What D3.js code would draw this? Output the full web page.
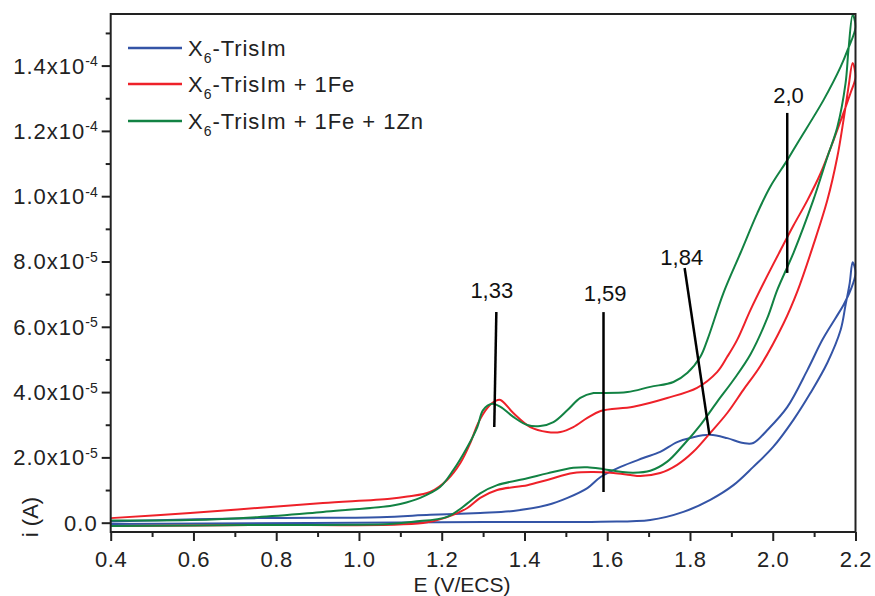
<!DOCTYPE html>
<html>
<head>
<meta charset="utf-8">
<script src="https://cdn.jsdelivr.net/npm/d3@7"></script>
<style>
  html, body { margin: 0; padding: 0; background: #fff; }
  svg { display: block; font-family: "Liberation Sans", Arial, Helvetica, sans-serif; }
</style>
</head>
<body>
<svg id="chart" width="875" height="596"></svg>
<script>
// ---------- DATA (current in units of 1e-5 A) ----------
const I_UNIT = 1e-5;
const seriesNames = ["X6-TrisIm", "X6-TrisIm + 1Fe", "X6-TrisIm + 1Fe + 1Zn"];

// Each CV loop: forward scan 0.4 -> 2.2 V then reverse scan 2.2 -> 0.4 V  [E (V), i (1e-5 A)]
const blueCV = [
  [0.400,-0.04],[1.300,0.02],[1.584,0.03],[1.704,0.08],[1.784,0.33],[1.849,0.70],[1.905,1.15],
  [1.953,1.71],[2.001,2.32],[2.050,3.15],[2.091,3.97],[2.132,4.90],[2.164,5.90],[2.176,6.67],
  [2.186,7.34],[2.193,7.98],
  [2.200,7.65],[2.188,7.12],[2.171,6.67],[2.152,6.27],[2.120,5.60],[2.084,4.68],[2.035,3.54],
  [1.987,2.84],[1.953,2.44],[1.929,2.44],[1.890,2.59],[1.849,2.69],[1.808,2.62],[1.769,2.47],
  [1.728,2.17],[1.687,1.98],[1.632,1.71],[1.584,1.40],[1.552,1.06],[1.504,0.76],[1.455,0.54],
  [1.373,0.36],[1.293,0.30],[1.172,0.24],[1.051,0.17],[0.754,0.14],[0.400,0.04]
];
const redCV = [
  [0.400,-0.10],[0.737,-0.07],[1.155,-0.01],[1.213,0.17],[1.262,0.45],[1.293,0.76],[1.334,1.00],
  [1.407,1.15],[1.455,1.31],[1.518,1.52],[1.566,1.55],[1.615,1.52],[1.656,1.46],[1.680,1.43],
  [1.728,1.52],[1.769,1.77],[1.808,2.17],[1.849,2.75],[1.890,3.36],[1.929,4.07],[1.970,4.80],
  [2.026,6.10],[2.060,7.10],[2.098,8.50],[2.132,9.88],[2.156,11.20],[2.171,12.33],[2.183,13.34],
  [2.193,14.08],
  [2.200,13.65],[2.188,13.16],[2.171,12.55],[2.147,11.72],[2.116,10.71],[2.084,9.88],[2.050,9.10],
  [2.019,8.35],[1.978,7.34],[1.946,6.51],[1.914,5.60],[1.890,5.08],[1.866,4.62],[1.817,4.13],
  [1.745,3.82],[1.663,3.55],[1.584,3.42],[1.552,3.21],[1.518,2.93],[1.487,2.78],[1.455,2.78],
  [1.414,2.93],[1.373,3.36],[1.342,3.76],[1.330,3.73],[1.310,3.51],[1.288,3.05],[1.269,2.44],
  [1.245,1.83],[1.213,1.31],[1.172,0.94],[1.117,0.80],[1.075,0.73],[0.913,0.60],[0.754,0.45],
  [0.592,0.30],[0.400,0.14]
];
const greenCV = [
  [0.400,-0.10],[0.737,-0.07],[1.075,-0.04],[1.131,0.03],[1.213,0.18],[1.262,0.59],[1.293,0.90],
  [1.334,1.15],[1.407,1.36],[1.455,1.51],[1.518,1.68],[1.552,1.70],[1.591,1.64],[1.632,1.56],
  [1.663,1.53],[1.704,1.59],[1.745,1.87],[1.784,2.38],[1.825,2.99],[1.866,3.71],[1.905,4.37],
  [1.946,5.15],[1.987,6.27],[2.011,7.13],[2.050,8.26],[2.098,9.88],[2.132,11.20],[2.156,12.11],
  [2.176,13.46],[2.183,14.48],[2.193,15.55],
  [2.200,15.18],[2.181,14.48],[2.164,13.96],[2.123,12.95],[2.060,11.63],[2.036,11.12],[1.994,10.29],
  [1.963,9.49],[1.922,8.26],[1.881,7.04],[1.842,5.60],[1.825,5.08],[1.794,4.59],[1.760,4.31],
  [1.704,4.16],[1.649,4.00],[1.584,3.97],[1.567,3.97],[1.535,3.82],[1.504,3.45],[1.470,3.08],
  [1.438,2.96],[1.407,2.99],[1.373,3.24],[1.342,3.55],[1.322,3.64],[1.300,3.45],[1.286,2.93],
  [1.262,2.32],[1.228,1.61],[1.196,1.09],[1.148,0.76],[1.100,0.57],[1.075,0.51],[0.913,0.33],
  [0.754,0.17],[0.592,0.08],[0.400,0.07]
];

// Peak annotations: label, label anchor (E, i) and marker segment (E1,i1)-(E2,i2)
const annLabels = ["1,33", "1,59", "1,84", "2,0"];
const annLabelE = [1.321, 1.595, 1.780, 2.038];
const annLabelI = [6.88, 6.80, 7.89, 12.86];
const annLine = [
  [[1.332, 6.45], [1.327, 2.93]],
  [[1.591, 6.45], [1.591, 0.94]],
  [[1.787, 7.80], [1.847, 2.69]],
  [[2.035, 12.55], [2.035, 7.65]]
];

const xMajorTicks = [0.4, 0.6, 0.8, 1.0, 1.2, 1.4, 1.6, 1.8, 2.0, 2.2];
const xMinorTicks = [0.5, 0.7, 0.9, 1.1, 1.3, 1.5, 1.7, 1.9, 2.1];
const yMajorTicks = [0, 2e-5, 4e-5, 6e-5, 8e-5, 1.0e-4, 1.2e-4, 1.4e-4];
const yMinorTicks = [1e-5, 3e-5, 5e-5, 7e-5, 9e-5, 1.1e-4, 1.3e-4, 1.5e-4];

// ---------- LAYOUT ----------
const W = 875, H = 596;
const margin = { left: 110.7, right: 19.5, top: 14, bottom: 64 };
const colors = ["#3454a6", "#ee2129", "#128243"];
const FONT = 22;

const svg = d3.select("#chart");
const x = d3.scaleLinear().domain([0.4, 2.2]).range([margin.left, W - margin.right]);
const y = d3.scaleLinear().domain([-0.285e-5, 15.58e-5]).range([H - margin.bottom, margin.top]);

// clip
svg.append("defs").append("clipPath").attr("id", "clip")
  .append("rect").attr("x", margin.left).attr("y", margin.top - 2)
  .attr("width", x(2.2) - margin.left + 1).attr("height", (H - margin.bottom) - margin.top + 2);

// series
const line = d3.line()
  .x(d => x(d[0]))
  .y(d => y(d[1] * I_UNIT))
  .curve(d3.curveCatmullRom.alpha(0.5));

const allSeries = [blueCV, redCV, greenCV];
const gLines = svg.append("g").attr("clip-path", "url(#clip)");
allSeries.forEach((s, k) => {
  gLines.append("path").datum(s)
    .attr("d", line)
    .attr("fill", "none")
    .attr("stroke", colors[k])
    .attr("stroke-width", 2)
    .attr("stroke-linejoin", "round");
});

// annotations
const gAnn = svg.append("g");
annLine.forEach(seg => {
  gAnn.append("line")
    .attr("x1", x(seg[0][0])).attr("y1", y(seg[0][1] * I_UNIT))
    .attr("x2", x(seg[1][0])).attr("y2", y(seg[1][1] * I_UNIT))
    .attr("stroke", "#000").attr("stroke-width", 2.5);
});
annLabels.forEach((t, k) => {
  gAnn.append("text")
    .attr("x", x(annLabelE[k])).attr("y", y(annLabelI[k] * I_UNIT))
    .attr("text-anchor", "middle")
    .attr("font-size", FONT).attr("fill", "#111")
    .text(t);
});

// axes
const xAxisG = svg.append("g").attr("transform", `translate(0,${H - margin.bottom})`);
xAxisG.call(d3.axisBottom(x).tickValues(xMajorTicks).tickSize(9).tickPadding(4)
  .tickFormat(d3.format(".1f")));
xAxisG.append("g").call(d3.axisBottom(x).tickValues(xMinorTicks).tickSize(5).tickFormat(""));
xAxisG.selectAll(".domain").remove();
xAxisG.selectAll("line").attr("stroke", "#222").attr("stroke-width", 2);
xAxisG.selectAll("text").attr("font-size", FONT).attr("fill", "#222")
  .attr("font-family", "Liberation Sans, Arial, sans-serif")
  .attr("letter-spacing", 0.6)
  .attr("dy", 0).attr("y", 35);

const yAxisG = svg.append("g").attr("transform", `translate(${margin.left},0)`);
yAxisG.call(d3.axisLeft(y).tickValues(yMajorTicks).tickSize(9).tickFormat(""));
yAxisG.append("g").call(d3.axisLeft(y).tickValues(yMinorTicks).tickSize(5).tickFormat(""));
yAxisG.selectAll(".domain").remove();
yAxisG.selectAll("line").attr("stroke", "#222").attr("stroke-width", 2);

// y tick labels with superscript exponents
yMajorTicks.forEach(v => {
  const t = yAxisG.append("text")
    .attr("x", -13).attr("y", y(v) + 8)
    .attr("text-anchor", "end")
    .attr("font-size", FONT).attr("fill", "#222");
  if (v === 0) {
    t.append("tspan").attr("letter-spacing", 1).text("0.0");
  } else {
    const e = Math.floor(Math.log10(v) + 1e-9);
    const m = v / Math.pow(10, e);
    t.append("tspan").attr("letter-spacing", 1).text(m.toFixed(1) + "x10");
    t.append("tspan").attr("font-size", 14).attr("dy", -7.5).text(String(e));
  }
});

// frame
svg.append("rect")
  .attr("x", margin.left).attr("y", margin.top)
  .attr("width", x(2.2) - margin.left).attr("height", (H - margin.bottom) - margin.top)
  .attr("fill", "none").attr("stroke", "#222").attr("stroke-width", 2);

// axis titles
svg.append("text")
  .attr("x", 462).attr("y", 592)
  .attr("text-anchor", "middle").attr("font-size", 21).attr("fill", "#222")
  .text("E (V/ECS)");
svg.append("text")
  .attr("transform", `translate(38,517) rotate(-90)`)
  .attr("text-anchor", "middle").attr("font-size", 22).attr("fill", "#222")
  .text("i (A)");

// legend
const legend = svg.append("g");
const legendY = [48, 84, 121];
seriesNames.forEach((name, k) => {
  legend.append("line")
    .attr("x1", 128).attr("x2", 182)
    .attr("y1", legendY[k]).attr("y2", legendY[k])
    .attr("stroke", colors[k]).attr("stroke-width", 2.5);
  const t = legend.append("text")
    .attr("x", 188).attr("y", legendY[k] + 8)
    .attr("font-size", FONT).attr("fill", "#222")
    .attr("letter-spacing", 0.95);
  t.append("tspan").text(name.slice(0, 1));
  t.append("tspan").attr("font-size", 14).attr("dy", 7).text(name.slice(1, 2));
  t.append("tspan").attr("dy", -7).text(name.slice(2));
});
</script>
</body>
</html>
